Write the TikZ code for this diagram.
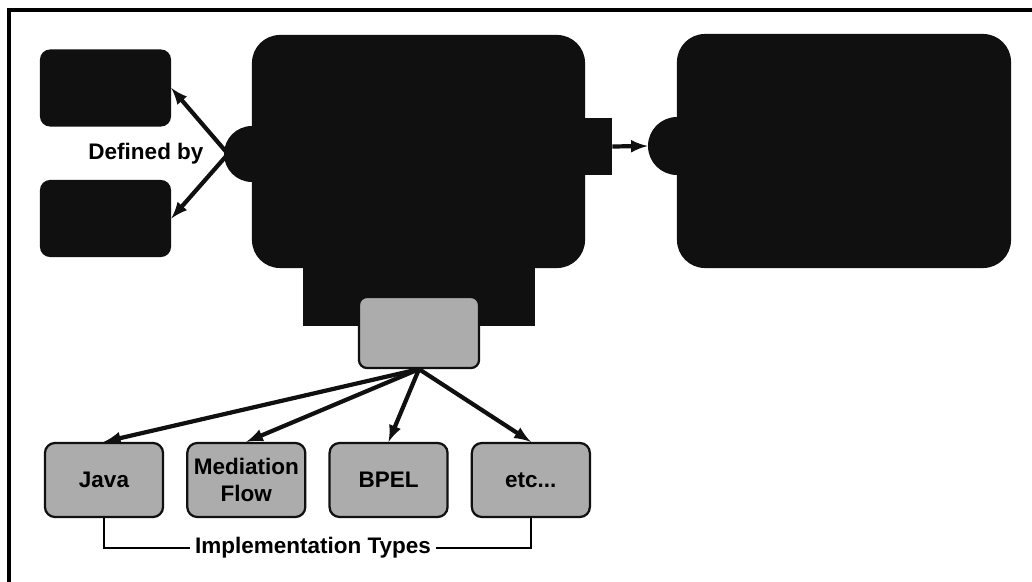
\documentclass[tikz,border=0pt]{standalone}
\usepackage{fontspec}
\setmainfont{Liberation Sans}
\usepackage{tikz}
\usetikzlibrary{arrows, positioning}
\definecolor{scdark}{RGB}{16,16,16}
\definecolor{scgray}{RGB}{172,172,172}

\begin{document}
\begin{tikzpicture}[x=0.025cm, y=-0.025cm,
  darkbox/.style={fill=scdark, draw=none, inner sep=0pt},
  implbox/.style={fill=scgray, draw=scdark, line width=1.6pt, rounded corners=0.25cm,
    minimum width=2.95cm, minimum height=1.85cm, align=center, inner sep=0pt},
  lbl/.style={font=\bfseries\fontsize{16}{19}\selectfont},
  arr/.style={-latex, line width=3pt, draw=scdark}]
\useasboundingbox (0,0) rectangle (1032,582);

% Frame
\draw[line width=2.5pt] (9,582) -- (9,10) -- (1032,10);

% Interfaces
\node[darkbox, rounded corners=0.25cm, minimum width=3.275cm, minimum height=1.925cm] (wsdl) at (105.5,88) {};
\node[darkbox, rounded corners=0.25cm, minimum width=3.275cm, minimum height=1.925cm] (javaif) at (105.5,218.5) {};
\node[lbl] (defby) at (146,154) {Defined by};

% Component
\node[darkbox, minimum width=5.8cm, minimum height=1.7cm] (base) at (419,292) {};
\node[darkbox, rounded corners=0.7cm, minimum width=8.325cm, minimum height=5.825cm] (comp) at (418.5,151.5) {};
\node[darkbox, circle, minimum size=1.4cm] (iface) at (252,154) {};
\node[darkbox, minimum width=0.85cm, minimum height=1.425cm] (ref) at (595,146.5) {};
\node[implbox, rounded corners=0.2cm, minimum width=3cm, minimum height=1.775cm] (impl) at (419,332.5) {};

% Target component
\node[darkbox, rounded corners=0.7cm, minimum width=8.35cm, minimum height=5.85cm] (target) at (844,151) {};
\node[darkbox, circle, minimum size=1.45cm] (tiface) at (677,146) {};

% Implementation types
\node[implbox, lbl] (java) at (104,480) {Java};
\node[implbox, lbl, right=0.55cm of java] (flow) {Mediation\\Flow};
\node[implbox, lbl, right=0.55cm of flow] (bpel) {BPEL};
\node[implbox, lbl, right=0.55cm of bpel] (etc) {etc...};
\node[lbl] (types) at (313,548) {Implementation Types};

% Connections
\coordinate (cross) at (228,154);
\draw[arr] (cross) -- (wsdl.east);
\draw[arr] (cross) -- (javaif.east);
\draw[arr] (ref.east) -- (tiface.west);
\foreach \t in {java, flow, bpel, etc}
  \draw[arr] (impl.south) -- (\t.north);
\draw[line width=1.6pt] (java.south) |- (types.west);
\draw[line width=1.6pt] (types.east) -| (etc.south);
\end{tikzpicture}
\end{document}
